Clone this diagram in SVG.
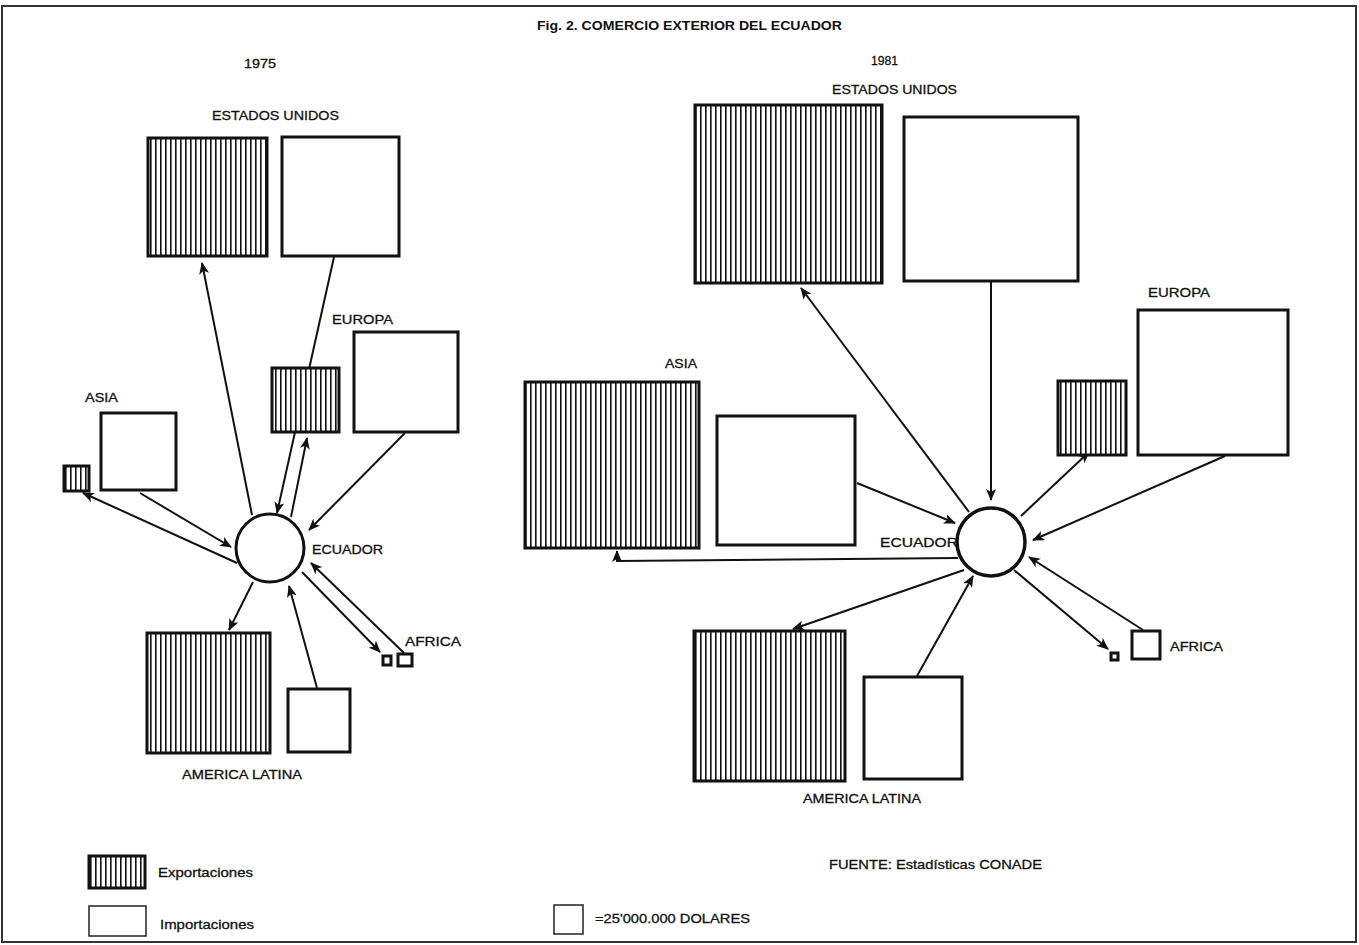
<svg xmlns="http://www.w3.org/2000/svg" width="1359" height="945" viewBox="0 0 1359 945">
<style>
.t{font-family:"Liberation Sans",Arial,sans-serif;font-size:13px;fill:#111;stroke:#111;stroke-width:0.3;}
.b{font-weight:bold;stroke-width:0;}
.box{fill:#fff;stroke:#111;stroke-width:3;}
.hb{fill:url(#hatch);stroke:#111;stroke-width:3;}
.c{fill:none;stroke:#111;stroke-width:2;}
.ca{fill:none;stroke:#111;stroke-width:2;marker-end:url(#arr);}
</style>
<defs>
<pattern id="hatch" patternUnits="userSpaceOnUse" width="5" height="10">
<rect width="5" height="10" fill="#fff"/>
<rect x="0" width="1.6" height="10" fill="#111"/>
</pattern>
<marker id="arr" markerUnits="userSpaceOnUse" markerWidth="12" markerHeight="10" refX="11" refY="5" orient="auto">
<path d="M0,0 L12,5 L0,10 L3,5 z" fill="#111"/>
</marker>
</defs>
<rect x="0" y="0" width="1359" height="945" fill="#fff"/>
<rect x="2" y="6" width="1354" height="936" fill="none" stroke="#333" stroke-width="2"/>
<g id="titles">
<text class="t b" x="537" y="30" textLength="305" lengthAdjust="spacingAndGlyphs">Fig. 2. COMERCIO EXTERIOR DEL ECUADOR</text>
<text class="t" x="244" y="68" textLength="32" lengthAdjust="spacingAndGlyphs">1975</text>
<text class="t" x="871" y="65" textLength="27" lengthAdjust="spacingAndGlyphs">1981</text>
</g>
<g id="connectors">
<!-- 1975 -->
<line class="ca" x1="252" y1="515" x2="202" y2="263"/>
<line class="ca" x1="334" y1="257" x2="277" y2="513"/>
<line class="ca" x1="291" y1="517" x2="307" y2="438"/>
<line class="ca" x1="405" y1="433" x2="309" y2="530"/>
<line class="ca" x1="140" y1="493" x2="231" y2="547"/>
<line class="ca" x1="237" y1="563" x2="83" y2="493"/>
<line class="ca" x1="253" y1="582" x2="229" y2="630"/>
<line class="ca" x1="317" y1="688" x2="289" y2="586"/>
<line class="ca" x1="302" y1="572" x2="380" y2="652"/>
<line class="ca" x1="404" y1="653" x2="311" y2="563"/>
<!-- 1981 -->
<line class="ca" x1="969" y1="512" x2="801" y2="288"/>
<line class="ca" x1="991" y1="282" x2="991" y2="500"/>
<line class="ca" x1="1021" y1="516" x2="1089" y2="452"/>
<line class="ca" x1="1225" y1="456" x2="1033" y2="540"/>
<line class="ca" x1="857" y1="483" x2="955" y2="523"/>
<path class="ca" d="M958,558 L617,561 L617,551"/>
<line class="ca" x1="964" y1="570" x2="793" y2="629"/>
<line class="ca" x1="917" y1="676" x2="973" y2="576"/>
<line class="ca" x1="1014" y1="570" x2="1108" y2="649"/>
<line class="ca" x1="1143" y1="630" x2="1029" y2="557"/>
</g>
<g id="usa-1975">
<text class="t" x="212" y="120" textLength="127" lengthAdjust="spacingAndGlyphs">ESTADOS UNIDOS</text>
<rect class="hb" x="148" y="138" width="119" height="118"/>
<rect class="box" x="282" y="137" width="117" height="119"/>
</g>
<g id="europa-1975">
<text class="t" x="332" y="324" textLength="61" lengthAdjust="spacingAndGlyphs">EUROPA</text>
<rect class="hb" x="272" y="368" width="67" height="64"/>
<rect class="box" x="354" y="332" width="104" height="100"/>
</g>
<g id="asia-1975">
<text class="t" x="85" y="402" textLength="33" lengthAdjust="spacingAndGlyphs">ASIA</text>
<rect class="hb" x="64" y="466" width="25" height="25"/>
<rect class="box" x="101" y="413" width="75" height="77"/>
</g>
<g id="ecuador-1975">
<circle cx="270" cy="548" r="34" fill="#fff" stroke="#111" stroke-width="3"/>
<text class="t" x="312" y="554" textLength="71" lengthAdjust="spacingAndGlyphs">ECUADOR</text>
</g>
<g id="africa-1975">
<text class="t" x="405" y="646" textLength="56" lengthAdjust="spacingAndGlyphs">AFRICA</text>
<rect x="383" y="656" width="8" height="9" fill="#fff" stroke="#111" stroke-width="3"/>
<rect class="box" x="398" y="654" width="14" height="12" stroke-width="2.5"/>
</g>
<g id="america-latina-1975">
<rect class="hb" x="147" y="633" width="123" height="120"/>
<rect class="box" x="288" y="689" width="62" height="63"/>
<text class="t" x="182" y="779" textLength="120" lengthAdjust="spacingAndGlyphs">AMERICA LATINA</text>
</g>
<g id="usa-1981">
<text class="t" x="832" y="94" textLength="125" lengthAdjust="spacingAndGlyphs">ESTADOS UNIDOS</text>
<rect class="hb" x="695" y="105" width="187" height="178"/>
<rect class="box" x="904" y="117" width="174" height="164"/>
</g>
<g id="europa-1981">
<text class="t" x="1148" y="297" textLength="62" lengthAdjust="spacingAndGlyphs">EUROPA</text>
<rect class="hb" x="1058" y="381" width="68" height="74"/>
<rect class="box" x="1138" y="310" width="150" height="145"/>
</g>
<g id="asia-1981">
<text class="t" x="665" y="368" textLength="32" lengthAdjust="spacingAndGlyphs">ASIA</text>
<rect class="hb" x="525" y="382" width="174" height="166"/>
<rect class="box" x="717" y="416" width="138" height="129"/>
</g>
<g id="ecuador-1981">
<text class="t" x="880" y="547" textLength="78" lengthAdjust="spacingAndGlyphs">ECUADOR</text>
<circle cx="991" cy="542" r="34" fill="#fff" stroke="#111" stroke-width="3.5"/>
</g>
<g id="africa-1981">
<rect x="1111" y="653" width="7" height="7" fill="#fff" stroke="#111" stroke-width="3"/>
<rect class="box" x="1132" y="631" width="28" height="28"/>
<text class="t" x="1170" y="651" textLength="53" lengthAdjust="spacingAndGlyphs">AFRICA</text>
</g>
<g id="america-latina-1981">
<rect class="hb" x="694" y="631" width="151" height="150"/>
<rect class="box" x="864" y="677" width="98" height="102"/>
<text class="t" x="803" y="803" textLength="118" lengthAdjust="spacingAndGlyphs">AMERICA LATINA</text>
</g>
<g id="legend">
<rect class="hb" x="89" y="856" width="56" height="32" stroke-width="2.5"/>
<text class="t" x="158" y="877" textLength="95" lengthAdjust="spacingAndGlyphs">Exportaciones</text>
<rect x="89" y="906" width="57" height="30" fill="#fff" stroke="#222" stroke-width="1.5"/>
<text class="t" x="160" y="929" textLength="94" lengthAdjust="spacingAndGlyphs">Importaciones</text>
<rect x="554" y="905" width="29" height="29" fill="#fff" stroke="#222" stroke-width="1.5"/>
<text class="t" x="595" y="923" textLength="155" lengthAdjust="spacingAndGlyphs">=25'000.000 DOLARES</text>
<text class="t" x="829" y="869" textLength="213" lengthAdjust="spacingAndGlyphs">FUENTE: Estadísticas CONADE</text>
</g>
</svg>
